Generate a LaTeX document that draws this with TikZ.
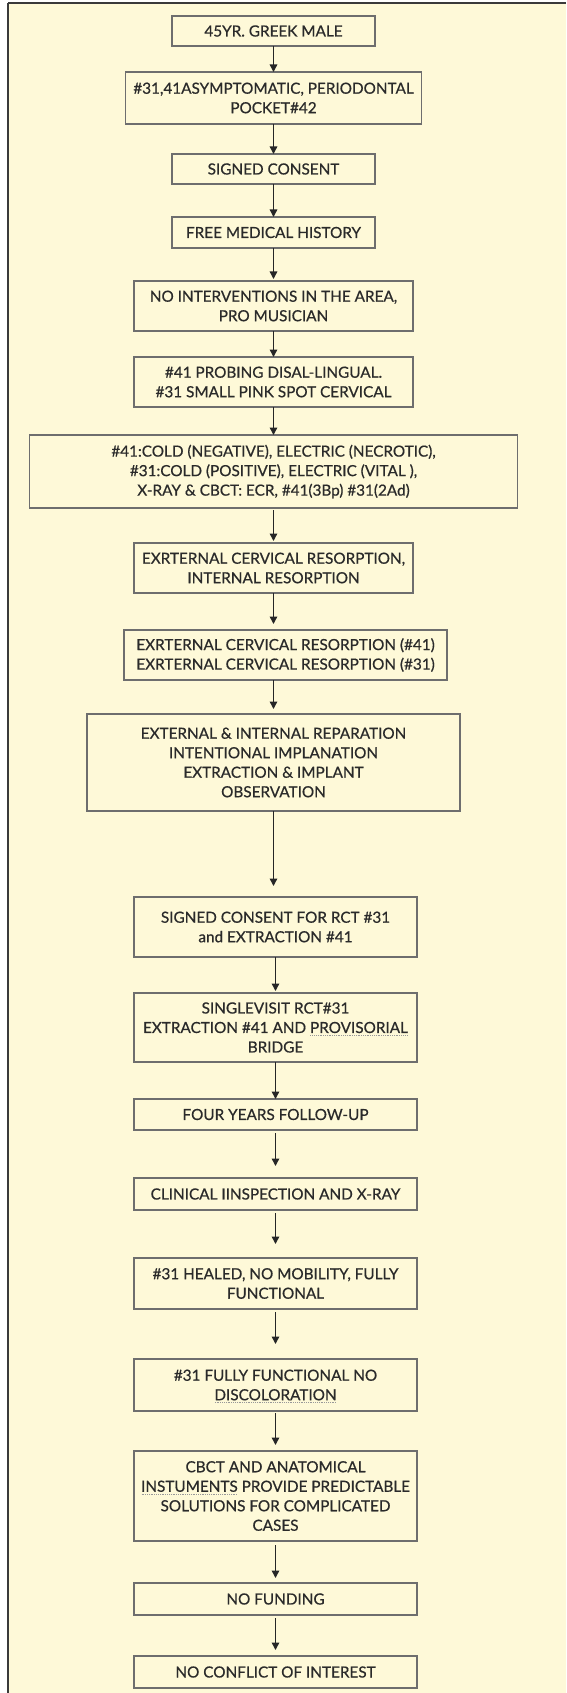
\documentclass[tikz,border=0pt]{standalone}
\usepackage{tikz}
\usepackage{xcolor}
\usepackage{fontspec}
\setmainfont{Lato}
\newfontfamily\boxfont[FakeBold=0.6]{Lato}
\usetikzlibrary{arrows.meta, positioning, calc, backgrounds}
\definecolor{pageYellow}{HTML}{FEF9D8}
\definecolor{frameDark}{HTML}{3A3A3A}
\definecolor{boxGray}{HTML}{6E6E6E}
\definecolor{inkDark}{HTML}{2A2A2A}
\newcommand{\spellmark}[1]{\setbox0=\hbox{#1}\leavevmode\rlap{\raisebox{-3pt}[0pt][0pt]{\color{black!40}\hbox to \wd0{\xleaders\hbox to 1.8pt{\hss\rule{1pt}{0.8pt}\hss}\hfill}}}\box0\relax}
\tikzstyle{stepbox} = [rectangle, draw=boxGray, line width=1.2pt, outer sep=0pt, text=inkDark, align=center, inner sep=3pt, font=\boxfont\fontsize{15.3}{19.5}\selectfont]
\tikzstyle{arrow} = [draw=black!85, line width=1.4pt, -{Triangle[length=7.5pt,width=7.5pt]}]

\begin{document}
\begin{tikzpicture}

% Nodes
\node (b1) [stepbox, minimum width=203pt, minimum height=30pt] at (273.5pt,-31pt) {45YR. GREEK MALE};
\node (b2) [stepbox, minimum width=296pt, minimum height=52pt, below=26pt of b1] {\#31,41ASYMPTOMATIC, PERIODONTAL\\POCKET\#42};
\node (b3) [stepbox, minimum width=203pt, minimum height=30pt, below=30pt of b2] {SIGNED CONSENT};
\node (b4) [stepbox, minimum width=203pt, minimum height=31pt, below=33pt of b3] {FREE MEDICAL HISTORY};
\node (b5) [stepbox, minimum width=279pt, minimum height=50pt, below=33pt of b4] {NO INTERVENTIONS IN THE AREA,\\PRO MUSICIAN};
\node (b6) [stepbox, minimum width=279pt, minimum height=50pt, below=26pt of b5] {\#41 PROBING DISAL-LINGUAL.\\\#31 SMALL PINK SPOT CERVICAL};
\node (b7) [stepbox, minimum width=488pt, minimum height=73pt, below=28pt of b6] {\#41:COLD (NEGATIVE), ELECTRIC (NECROTIC),\\\#31:COLD (POSITIVE), ELECTRIC (VITAL ),\\X-RAY \& CBCT: ECR, \#41(3Bp) \#31(2Ad)};
\node (b8) [stepbox, minimum width=279pt, minimum height=50pt, below=35pt of b7] {EXRTERNAL CERVICAL RESORPTION,\\INTERNAL RESORPTION};
\node (b9) [stepbox, minimum width=323pt, minimum height=50pt, below=37pt of b8, xshift=12pt] {EXRTERNAL CERVICAL RESORPTION (\#41)\\EXRTERNAL CERVICAL RESORPTION (\#31)};
\node (b10) [stepbox, minimum width=373pt, minimum height=97pt, below=34pt of b9, xshift=-12pt] {EXTERNAL \& INTERNAL REPARATION\\INTENTIONAL IMPLANATION\\EXTRACTION \& IMPLANT\\OBSERVATION};
\node (b11) [stepbox, minimum width=283pt, minimum height=60pt, below=86pt of b10, xshift=2pt] {SIGNED CONSENT FOR RCT \#31\\and EXTRACTION \#41};
\node (b12) [stepbox, minimum width=283pt, minimum height=69pt, below=36pt of b11] {SINGLEVISIT RCT\#31\\EXTRACTION \#41 AND \spellmark{PROVISORIAL}\\BRIDGE};
\node (b13) [stepbox, minimum width=283pt, minimum height=31pt, below=37pt of b12] {FOUR YEARS FOLLOW-UP};
\node (b14) [stepbox, minimum width=283pt, minimum height=32pt, below=48pt of b13] {CLINICAL IINSPECTION AND X-RAY};
\node (b15) [stepbox, minimum width=283pt, minimum height=51pt, below=48pt of b14] {\#31 HEALED, NO MOBILITY, FULLY\\FUNCTIONAL};
\node (b16) [stepbox, minimum width=283pt, minimum height=52pt, below=50pt of b15] {\#31 FULLY FUNCTIONAL NO\\\spellmark{DISCOLORATION}};
\node (b17) [stepbox, minimum width=283pt, minimum height=90pt, below=40pt of b16] {CBCT AND ANATOMICAL\\\spellmark{INSTUMENTS} PROVIDE PREDICTABLE\\SOLUTIONS FOR COMPLICATED\\CASES};
\node (b18) [stepbox, minimum width=283pt, minimum height=32pt, below=42pt of b17] {NO FUNDING};
\node (b19) [stepbox, minimum width=283pt, minimum height=32pt, below=41pt of b18] {NO CONFLICT OF INTEREST};

% Links
\draw [arrow] (b1) -- (b1 |- b2.north);
\draw [arrow] (b2) -- (b2 |- b3.north);
\draw [arrow] (b3) -- (b3 |- b4.north);
\draw [arrow, shorten >=2pt] (b4) -- (b4 |- b5.north);
\draw [arrow] (b5) -- (b5 |- b6.north);
\draw [arrow] (b6) -- (b6 |- b7.north);
\draw [arrow, shorten <=2pt, shorten >=2pt] (b7) -- (b7 |- b8.north);
\draw [arrow, shorten >=6pt] (b8) -- (b8 |- b9.north);
\draw [arrow, shorten >=5pt] (b10 |- b9.south) -- (b10);
\draw [arrow, shorten >=11pt] (b10) -- (b10 |- b11.north);
\draw [arrow, shorten >=2pt] (b11) -- (b11 |- b12.north);
\draw [arrow] (b12) -- (b12 |- b13.north);
\draw [arrow, shorten <=3pt, shorten >=12pt] (b13) -- (b13 |- b14.north);
\draw [arrow, shorten <=3pt, shorten >=14pt] (b14) -- (b14 |- b15.north);
\draw [arrow, shorten <=3pt, shorten >=15pt] (b15) -- (b15 |- b16.north);
\draw [arrow, shorten <=2pt, shorten >=6pt] (b16) -- (b16 |- b17.north);
\draw [arrow, shorten <=4pt, shorten >=5pt] (b17) -- (b17 |- b18.north);
\draw [arrow, shorten <=3pt, shorten >=6pt] (b18) -- (b18 |- b19.north);

% Backgrounds
\begin{pgfonlayer}{background}
    \fill[white] (0,0) rectangle (566pt,-1693pt);
    \fill[pageYellow] (8pt,-3pt) rectangle (566pt,-1693pt);
    \draw[frameDark, line width=1.5pt] (8pt,-3pt) -- (566pt,-3pt);
    \draw[frameDark, line width=2pt] (8pt,-3pt) -- (8pt,-1693pt);
\end{pgfonlayer}
\pgfresetboundingbox
\useasboundingbox (0,0) rectangle (566pt,-1693pt);

\end{tikzpicture}
\end{document}
